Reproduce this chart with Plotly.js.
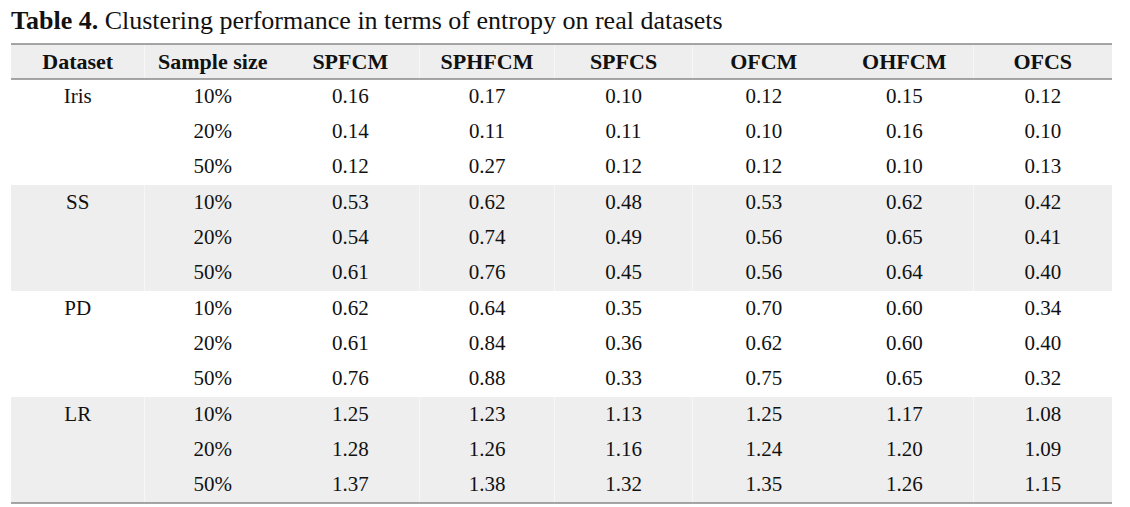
<!DOCTYPE html>
<html><head><meta charset="utf-8">
<script src="https://cdn.plot.ly/plotly-3.0.1.min.js"></script>
<style>html,body{margin:0;padding:0;background:#fff}#chart{width:1130px;height:507px}</style>
</head><body><div id="chart"></div>
<script>
const headers = ["Dataset","Sample size","SPFCM","SPHFCM","SPFCS","OFCM","OHFCM","OFCS"];
const datasets = ["Iris","","","SS","","","PD","","","LR","",""];
const sampleSizes = ["10%","20%","50%","10%","20%","50%","10%","20%","50%","10%","20%","50%"];
const SPFCM  = ["0.16","0.14","0.12","0.53","0.54","0.61","0.62","0.61","0.76","1.25","1.28","1.37"];
const SPHFCM = ["0.17","0.11","0.27","0.62","0.74","0.76","0.64","0.84","0.88","1.23","1.26","1.38"];
const SPFCS  = ["0.10","0.11","0.12","0.48","0.49","0.45","0.35","0.36","0.33","1.13","1.16","1.32"];
const OFCM   = ["0.12","0.10","0.12","0.53","0.56","0.56","0.70","0.62","0.75","1.25","1.24","1.35"];
const OHFCM  = ["0.15","0.16","0.10","0.62","0.65","0.64","0.60","0.60","0.65","1.17","1.20","1.26"];
const OFCS   = ["0.12","0.10","0.13","0.42","0.41","0.40","0.34","0.40","0.32","1.08","1.09","1.15"];
const shadedGroups = [false,false,false,true,true,true,false,false,false,true,true,true];

const W = 1130, H = 507;
const x0 = 11, x1 = 1112, yTop = 44, headH = 35, rowH = 35.33;
const colWidths = [133.5,136.5,138.5,135,138,142.5,138.5,138.5];
const rowColors = shadedGroups.map(s => s ? "#eeeeee" : "#ffffff");
const columns = [datasets, sampleSizes, SPFCM, SPHFCM, SPFCS, OFCM, OHFCM, OFCS];

const font = "Liberation Serif, Times New Roman, serif";
const trace = {
  type: "table",
  domain: {x: [x0/W, x1/W], y: [0, 1 - yTop/H]},
  columnwidth: colWidths,
  header: {
    values: headers,
    align: "center",
    height: headH,
    fill: {color: "#eeeeee"},
    line: {width: 0, color: "rgba(0,0,0,0)"},
    font: {family: font, size: 22, weight: "bold", color: "#111"}
  },
  cells: {
    values: columns,
    align: "center",
    height: rowH,
    fill: {color: columns.map(() => rowColors)},
    line: {width: 0, color: "rgba(0,0,0,0)"},
    font: {family: font, size: 21, color: "#111"}
  }
};

const yb = v => 1 - v/H;
const lineStyle = {color: "#888888", width: 1.5};
const shapes = [yTop, yTop + headH, yTop + headH + rowH*12].map(y => ({
  type: "line", xref: "paper", yref: "paper",
  x0: x0/W, x1: x1/W, y0: yb(y), y1: yb(y), line: lineStyle
}));

const layout = {
  width: W, height: H,
  margin: {l: 0, r: 0, t: 0, b: 0},
  paper_bgcolor: "#ffffff",
  title: {
    text: "<b>Table 4.</b> Clustering performance in terms of entropy on real datasets",
    x: x0/W, xanchor: "left", xref: "paper",
    y: 1 - 20/H, yanchor: "middle", yref: "container",
    font: {family: font, size: 26, color: "#111"}
  },
  shapes: shapes
};
Plotly.newPlot("chart", [trace], layout, {displayModeBar: false, staticPlot: true});
</script></body></html>
